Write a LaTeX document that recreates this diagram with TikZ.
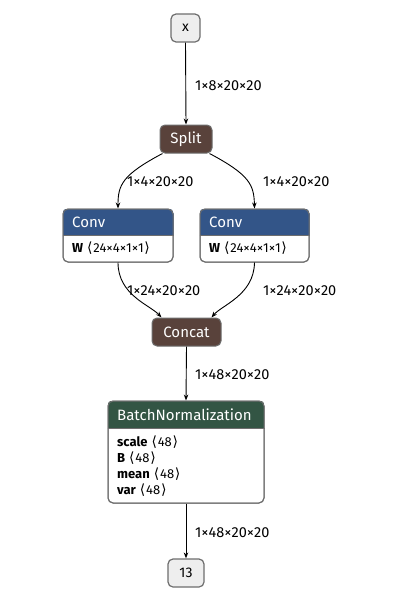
\documentclass[tikz,border=0pt]{standalone}
\usepackage{fontspec}
\setmainfont{Fira Sans}
\newfontfamily\djv{DejaVu Sans}
\usetikzlibrary{arrows.meta,calc}
\definecolor{convc}{RGB}{51,85,136}
\definecolor{tensc}{RGB}{89,66,59}
\definecolor{normc}{RGB}{51,85,68}
\definecolor{iofill}{RGB}{238,238,238}
\definecolor{bord}{RGB}{110,110,110}
\newcommand{\lb}{\hspace{4pt}{\djv\fontsize{14}{14}\selectfont\char"27E8}\hspace{0.8pt}}
\newcommand{\rb}{\hspace{0.8pt}{\djv\fontsize{14}{14}\selectfont\char"27E9}}
\tikzset{
  iobox/.style={draw=bord,fill=iofill,line width=1.2pt,rounded corners=5pt,inner sep=0pt,font=\fontsize{14}{16}\selectfont},
  opbox/.style={draw=bord,fill=#1,line width=1pt,rounded corners=5pt,inner sep=0pt,text=white,font=\fontsize{15}{17}\selectfont},
  frame/.style={draw=bord,line width=1pt,rounded corners=5pt,inner sep=0pt},
  edge/.style={draw=black,line width=0.9pt,-{Stealth[length=6pt,width=4.5pt]}},
  elabel/.style={anchor=west,inner sep=0pt,font=\fontsize{14.5}{16}\selectfont},
  title/.style={anchor=west,inner sep=0pt,text=white,font=\fontsize{15}{17}\selectfont},
  attr/.style={anchor=west,inner sep=0pt,font=\fontsize{13}{14}\selectfont},
}
\begin{document}
\begin{tikzpicture}[x=1pt,y=-1pt]
\useasboundingbox[fill=white] (0,0) rectangle (414,600);
% input / output
\node[iobox,minimum width=29pt,minimum height=28pt] (x) at (185.5,28) {x};
\node[iobox,minimum width=36pt,minimum height=28pt] (o) at (186,573) {13};
% Split and Concat
\node[opbox=tensc,minimum width=52pt,minimum height=28pt] (split) at (186,139) {Split};
\node[opbox=tensc,minimum width=69pt,minimum height=28pt] (concat) at (186.5,332) {Concat};
% Conv left
\node[frame,fill=white,minimum width=110pt,minimum height=53pt] (c1) at (118,235.5) {};
\begin{scope}
\clip[rounded corners=5pt] (c1.north west) rectangle (c1.south east);
\fill[convc] (c1.north west) rectangle ($(c1.north east)+(0,27)$);
\end{scope}
\draw[bord,line width=0.8pt] ($(c1.north west)+(0,27)$) -- ($(c1.north east)+(0,27)$);
\node[frame,minimum width=110pt,minimum height=53pt] at (c1) {};
\node[title] (c1t) at (72,222) {Conv};
\node[attr] (c1a) at (72,248) {\textbf{W}\lb24×4×1×1\rb};
% Conv right
\node[frame,fill=white,minimum width=109pt,minimum height=53pt] (c2) at (254.5,235.5) {};
\begin{scope}
\clip[rounded corners=5pt] (c2.north west) rectangle (c2.south east);
\fill[convc] (c2.north west) rectangle ($(c2.north east)+(0,27)$);
\end{scope}
\draw[bord,line width=0.8pt] ($(c2.north west)+(0,27)$) -- ($(c2.north east)+(0,27)$);
\node[frame,minimum width=109pt,minimum height=53pt] at (c2) {};
\node[title] (c2t) at (209,222) {Conv};
\node[attr] (c2a) at (209,248) {\textbf{W}\lb24×4×1×1\rb};
% BatchNormalization
\node[frame,fill=white,minimum width=156pt,minimum height=102pt] (bn) at (186,452) {};
\begin{scope}
\clip[rounded corners=5pt] (bn.north west) rectangle (bn.south east);
\fill[normc] (bn.north west) rectangle ($(bn.north east)+(0,28)$);
\end{scope}
\draw[bord,line width=0.8pt] ($(bn.north west)+(0,28)$) -- ($(bn.north east)+(0,28)$);
\node[frame,minimum width=156pt,minimum height=102pt] at (bn) {};
\node[title] (bnt) at (117,415) {BatchNormalization};
\node[attr] (bn1) at (117,442) {\textbf{scale}\lb48\rb};
\node[attr] (bn2) at (117,458) {\textbf{B}\lb48\rb};
\node[attr] (bn3) at (117,474) {\textbf{mean}\lb48\rb};
\node[attr] (bn4) at (117,490) {\textbf{var}\lb48\rb};
% edges
\draw[edge] (x.south) -- (split.north);
\node[elabel] (l1) at (195,86) {1×8×20×20};
\draw[edge] ($(split.south west)+(3,0)$) .. controls (122,175) and (118,185) .. (c1.north);
\draw[edge] ($(split.south east)+(-3,0)$) .. controls (250,175) and (254,185) .. (c2.north);
\node[elabel] (l2) at (127,182) {1×4×20×20};
\node[elabel] (l3) at (263,182) {1×4×20×20};
\draw[edge] (c1.south) .. controls (118,295) and (150,305) .. ($(concat.north west)+(10,0)$);
\draw[edge] (c2.south) .. controls (254,295) and (222,305) .. ($(concat.north east)+(-10,0)$);
\node[elabel] (l4) at (127,291) {1×24×20×20};
\node[elabel] (l5) at (263,291) {1×24×20×20};
\draw[edge] (concat.south) -- (bn.north);
\node[elabel] (l6) at (195,375) {1×48×20×20};
\draw[edge] (bn.south) -- (o.north);
\node[elabel] (l7) at (195,533) {1×48×20×20};
\end{tikzpicture}
\end{document}
